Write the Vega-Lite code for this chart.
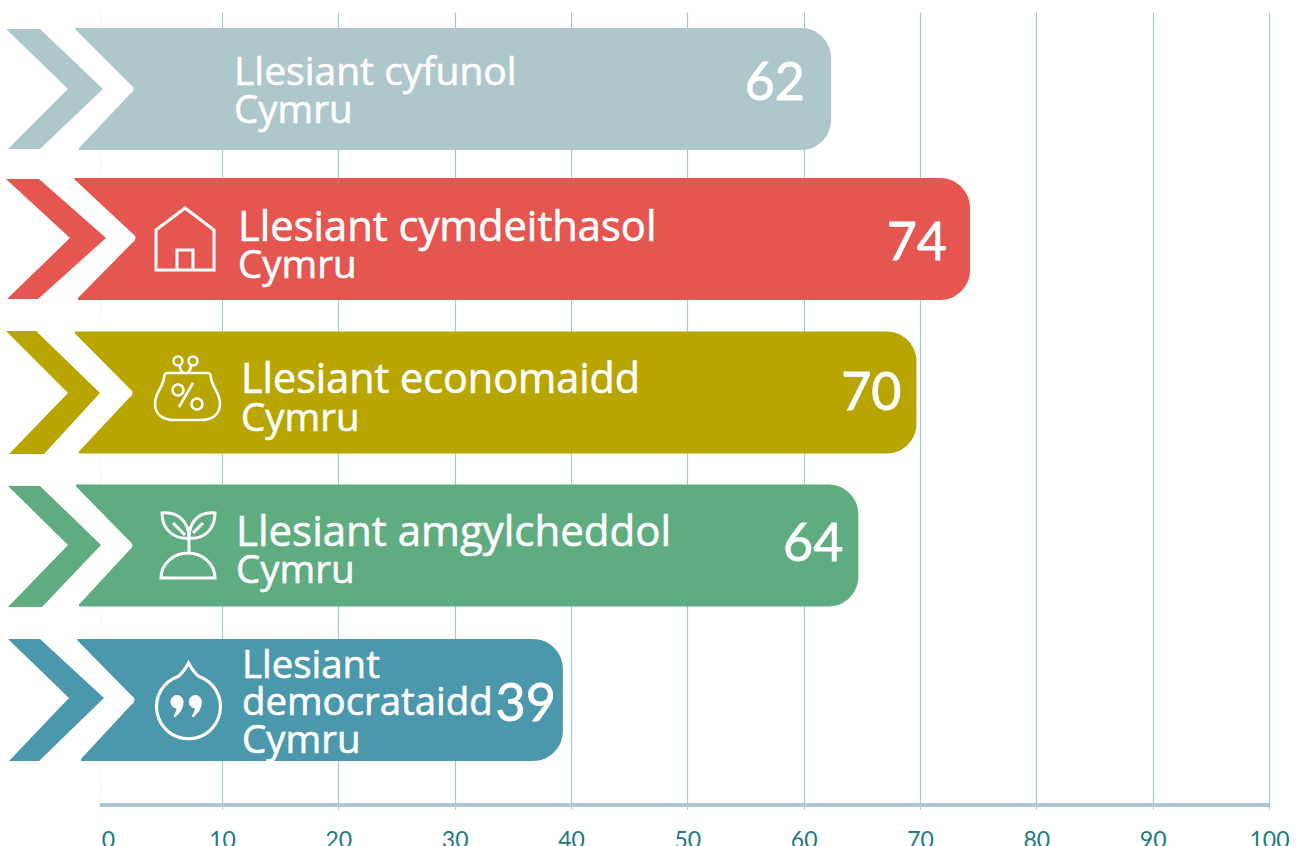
{
"$schema":"https://vega.github.io/schema/vega-lite/v6.json",
"autosize":{"type":"none"},
"padding":{"left":0,"top":12,"right":0,"bottom":37},
"width":1297,"height":797,
"background":"white",
"config":{"view":{"stroke":null}},
"data":{"values":[
{"row":1,"group":"Cyfunol","title":"Llesiant cyfunol","region":"Cymru","score":62,"bar":62.35},
{"row":2,"group":"Cymdeithasol","title":"Llesiant cymdeithasol","region":"Cymru","score":74,"bar":74.3},
{"row":3,"group":"Economaidd","title":"Llesiant economaidd","region":"Cymru","score":70,"bar":69.7},
{"row":4,"group":"Amgylcheddol","title":"Llesiant amgylcheddol","region":"Cymru","score":64,"bar":64.7},
{"row":5,"group":"Democrataidd","title":"Llesiant\ndemocrataidd","region":"Cymru","score":39,"bar":39.3}
]},
"encoding":{
"y":{"field":"row","type":"quantitative","axis":null,"scale":{"domain":[0,1,2,3,4,5,6],"range":[0,77,227,380.5,533.5,688,797],"zero":false,"nice":false}}
},
"layer":[
{"mark":{"type":"bar","orient":"horizontal","height":122,"cornerRadiusTopRight":30,"cornerRadiusBottomRight":30},
"encoding":{
"x":{"field":"bar","type":"quantitative","title":null,
"scale":{"domain":[-8.554,0,10,100,102.39],"range":[0,100,222,1269,1297],"zero":false,"nice":false},
"axis":{"values":[0,10,20,30,40,50,60,70,80,90,100],"domain":false,"ticks":false,"title":null,"labelFontSize":23,"labelFont":"Lato","labelColor":"#1b7b80","labelPadding":20,"labelFlush":false,"labelOverlap":false,"labelOffset":{"condition":{"test":"datum.value===0","value":8},"value":0},"grid":true,"gridColor":{"condition":{"test":"datum.value===0","value":"#dbe7e9"},"value":"#abc8cd"},"gridDash":{"condition":{"test":"datum.value===0","value":[1,2]},"value":[]},"gridWidth":1.2,"zindex":0}},
"x2":{"datum":-2.57},
"color":{"field":"group","type":"nominal","legend":null,"scale":{"domain":["Cyfunol","Cymdeithasol","Economaidd","Amgylcheddol","Democrataidd"],"range":["#adc7ca","#e65651","#b9a500","#5eac80","#4b97ac"]}}
}},
{"mark":{"type":"point","filled":true,"size":4,"opacity":1,"fill":"white","strokeWidth":0},
"encoding":{"x":{"datum":0},
"shape":{"field":"group","type":"nominal","legend":null,"scale":{"domain":["Cyfunol","Cymdeithasol","Economaidd","Amgylcheddol","Democrataidd"],"range":[
"M-32 -63 H-25 V-60 L30 -5 Q37 0 30 5 L-21 59 V63 H-32 Z",
"M-32 -63 H-26 V-60 L32 -6 Q39 -1 32 4 L-22 59 V63 H-32 Z",
"M-32 -63 H-25 V-59 L29 -4.5 Q36 .5 29 5.5 L-21 59 V63 H-32 Z",
"M-32 -63 H-24 V-59 L29 -5 Q36 0 29 5 L-21 59 V63 H-32 Z",
"M-32 -63 H-23 V-60 L31 -5 Q38 0 31 5 L-19 59 V63 H-32 Z"]}}
}},
{"mark":{"type":"rule","color":"#abc8cd","strokeWidth":3},
"encoding":{"x":{"datum":0},"x2":{"datum":100},"y":{"datum":6}}},
{"transform":[{"filter":"datum.row===1"}],"mark":{"type":"point","filled":true,"size":4,"opacity":1,"strokeWidth":0,"color":"#adc7ca","shape":"M-94 -60 L-60 -60 L3 0 L-60 60 L-92 60 L-32 0 Z"},"encoding":{"x":{"datum":0}}},
{"transform":[{"filter":"datum.row===2"}],"mark":{"type":"point","filled":true,"size":4,"opacity":1,"strokeWidth":0,"color":"#e65651","shape":"M-94 -60 L-61 -60 L6 -1 L-62 60 L-93 60 L-30 -1 Z"},"encoding":{"x":{"datum":0}}},
{"transform":[{"filter":"datum.row===3"}],"mark":{"type":"point","filled":true,"size":4,"opacity":1,"strokeWidth":0,"color":"#b9a500","shape":"M-94 -61.5 L-64 -61.5 L0 .5 L-56 61.5 L-91 61.5 L-32 .5 Z"},"encoding":{"x":{"datum":0}}},
{"transform":[{"filter":"datum.row===4"}],"mark":{"type":"point","filled":true,"size":4,"opacity":1,"strokeWidth":0,"color":"#5eac80","shape":"M-92 -59.5 L-60 -59.5 L1 -.5 L-58 61.5 L-92 61.5 L-32 -.5 Z"},"encoding":{"x":{"datum":0}}},
{"transform":[{"filter":"datum.row===5"}],"mark":{"type":"point","filled":true,"size":4,"opacity":1,"strokeWidth":0,"color":"#4b97ac","shape":"M-92 -61 L-60 -61 L4 -2 L-61 61 L-91 61 L-31 -2 Z"},"encoding":{"x":{"datum":0}}},
{"transform":[{"filter":"datum.row===2"}],"mark":{"type":"point","filled":false,"size":4,"opacity":1,"stroke":"white","strokeWidth":3,"shape":"M85 -31 L56 -9 L56 31 L114 31 L114 -9 Z M77 31 V11 H93 V31"},"encoding":{"x":{"datum":0}}},
{"transform":[{"filter":"datum.row===3"}],"mark":{"type":"point","filled":false,"size":4,"opacity":1,"stroke":"white","strokeWidth":2.6,"shape":"M68 -19.5 H107 Q111 -19.5 111 -15 C112 -5 120 0 120 11 C120 22 112 27.5 100 27.5 H75 C63 27.5 55 22 55 11 C55 0 63 -5 64 -15 Q64 -19.5 68 -19.5 Z M73.5 -31.5 a4.5 4.5 0 1 0 9 0 a4.5 4.5 0 1 0 -9 0 Z M88.5 -31.5 a4.5 4.5 0 1 0 9 0 a4.5 4.5 0 1 0 -9 0 Z M80 -27 Q80 -22 83 -20 M91 -27 Q91 -23 88 -20 M72.5 -2.5 a5.5 5.5 0 1 0 11 0 a5.5 5.5 0 1 0 -11 0 Z M91.5 11.5 a5.5 5.5 0 1 0 11 0 a5.5 5.5 0 1 0 -11 0 Z M93 -9.5 L79 14.5"},"encoding":{"x":{"datum":0}}},
{"transform":[{"filter":"datum.row===4"}],"mark":{"type":"point","filled":false,"size":4,"opacity":1,"stroke":"white","strokeWidth":3,"shape":"M62 -32.5 C80 -34 89 -22 89 -7.5 C74 -6 62 -16 62 -32.5 Z M115 -32.5 C97 -34 89 -22 89 -7.5 C104 -6 115 -16 115 -32.5 Z M73 -22.5 L85 -10.5 M103 -22.5 L93 -12.5 M89 -7.5 V7.5 M61 32.5 C61 18 74 7.5 88 7.5 C102 7.5 115 18 115 32.5 Z"},"encoding":{"x":{"datum":0}}},
{"transform":[{"filter":"datum.row===5"}],"mark":{"type":"point","filled":false,"size":4,"opacity":1,"stroke":"white","strokeWidth":3.2,"shape":"M88.5 -37 Q83 -27 78 -23.5 A32 32 0 1 0 99 -23.5 Q94 -27 88.5 -37 Z"},"encoding":{"x":{"datum":0}}},
{"transform":[{"filter":"datum.row===5"}],"mark":{"type":"point","filled":true,"size":4,"opacity":1,"fill":"white","stroke":"white","strokeWidth":1,"shape":"M71 2 A6 6 0 0 1 83 1 C83.5 8 79 14 75 16.7 L74 16 C76 13 77 10 77 8 C73.5 8 71 5.5 71 2 Z M89.3 2 A6 6 0 0 1 101.3 1 C101.8 8 97.3 14 93.3 16.7 L92.3 16 C94.3 13 95.3 10 95.3 8 C91.8 8 89.3 5.5 89.3 2 Z"},"encoding":{"x":{"datum":0}}},
{"transform":[{"filter":"datum.row===1"}],"mark":{"type":"text","font":"Open Sans","fontSize":39,"fontWeight":400,"color":"white","stroke":"white","strokeWidth":0.6,"align":"left","baseline":"middle","dx":134,"dy":-16},"encoding":{"x":{"datum":0},"text":{"field":"title"}}},
{"transform":[{"filter":"datum.row===2"}],"mark":{"type":"text","font":"Open Sans","fontSize":41.7,"fontWeight":400,"color":"white","stroke":"white","strokeWidth":0.6,"align":"left","baseline":"middle","dx":138,"dy":-11},"encoding":{"x":{"datum":0},"text":{"field":"title"}}},
{"transform":[{"filter":"datum.row===3"}],"mark":{"type":"text","font":"Open Sans","fontSize":41.3,"fontWeight":400,"color":"white","stroke":"white","strokeWidth":0.6,"align":"left","baseline":"middle","dx":141,"dy":-11.5},"encoding":{"x":{"datum":0},"text":{"field":"title"}}},
{"transform":[{"filter":"datum.row===4"}],"mark":{"type":"text","font":"Open Sans","fontSize":42,"fontWeight":400,"color":"white","stroke":"white","strokeWidth":0.6,"align":"left","baseline":"middle","dx":136,"dy":-12.5},"encoding":{"x":{"datum":0},"text":{"field":"title"}}},
{"transform":[{"filter":"datum.row===5"}],"mark":{"type":"text","font":"Open Sans","fontSize":38.4,"fontWeight":400,"color":"white","stroke":"white","strokeWidth":0.6,"align":"left","baseline":"middle","lineBreak":"\n","lineHeight":37.5,"dx":142,"dy":-34.5},"encoding":{"x":{"datum":0},"text":{"field":"title"}}},
{"transform":[{"filter":"datum.row===1"}],"mark":{"type":"text","font":"Open Sans","fontSize":38.5,"fontWeight":400,"color":"white","stroke":"white","strokeWidth":0.6,"align":"left","baseline":"middle","dx":134,"dy":22},"encoding":{"x":{"datum":0},"text":{"field":"region"}}},
{"transform":[{"filter":"datum.row===2"}],"mark":{"type":"text","font":"Open Sans","fontSize":38.5,"fontWeight":400,"color":"white","stroke":"white","strokeWidth":0.6,"align":"left","baseline":"middle","dx":138,"dy":27},"encoding":{"x":{"datum":0},"text":{"field":"region"}}},
{"transform":[{"filter":"datum.row===3"}],"mark":{"type":"text","font":"Open Sans","fontSize":38.5,"fontWeight":400,"color":"white","stroke":"white","strokeWidth":0.6,"align":"left","baseline":"middle","dx":141,"dy":26.5},"encoding":{"x":{"datum":0},"text":{"field":"region"}}},
{"transform":[{"filter":"datum.row===4"}],"mark":{"type":"text","font":"Open Sans","fontSize":38.5,"fontWeight":400,"color":"white","stroke":"white","strokeWidth":0.6,"align":"left","baseline":"middle","dx":136,"dy":25.5},"encoding":{"x":{"datum":0},"text":{"field":"region"}}},
{"transform":[{"filter":"datum.row===5"}],"mark":{"type":"text","font":"Open Sans","fontSize":38.5,"fontWeight":400,"color":"white","stroke":"white","strokeWidth":0.6,"align":"left","baseline":"middle","dx":142,"dy":40.5},"encoding":{"x":{"datum":0},"text":{"field":"region"}}},
{"transform":[{"filter":"datum.row===1"}],"mark":{"type":"text","font":"Lato","fontSize":52,"fontWeight":400,"color":"white","stroke":"white","strokeWidth":0.8,"align":"right","baseline":"middle","dx":-26,"dy":-5.5},"encoding":{"x":{"field":"bar","type":"quantitative"},"text":{"field":"score"}}},
{"transform":[{"filter":"datum.row===2"}],"mark":{"type":"text","font":"Lato","fontSize":52,"fontWeight":400,"color":"white","stroke":"white","strokeWidth":0.8,"align":"right","baseline":"middle","dx":-23,"dy":4.5},"encoding":{"x":{"field":"bar","type":"quantitative"},"text":{"field":"score"}}},
{"transform":[{"filter":"datum.row===3"}],"mark":{"type":"text","font":"Lato","fontSize":52,"fontWeight":400,"color":"white","stroke":"white","strokeWidth":0.8,"align":"right","baseline":"middle","dx":-15,"dy":1},"encoding":{"x":{"field":"bar","type":"quantitative"},"text":{"field":"score"}}},
{"transform":[{"filter":"datum.row===4"}],"mark":{"type":"text","font":"Lato","fontSize":52,"fontWeight":400,"color":"white","stroke":"white","strokeWidth":0.8,"align":"right","baseline":"middle","dx":-15,"dy":-1},"encoding":{"x":{"field":"bar","type":"quantitative"},"text":{"field":"score"}}},
{"transform":[{"filter":"datum.row===5"}],"mark":{"type":"text","font":"Lato","fontSize":52,"fontWeight":400,"color":"white","stroke":"white","strokeWidth":0.8,"align":"right","baseline":"middle","dx":-7,"dy":4.5},"encoding":{"x":{"field":"bar","type":"quantitative"},"text":{"field":"score"}}}
]
}
